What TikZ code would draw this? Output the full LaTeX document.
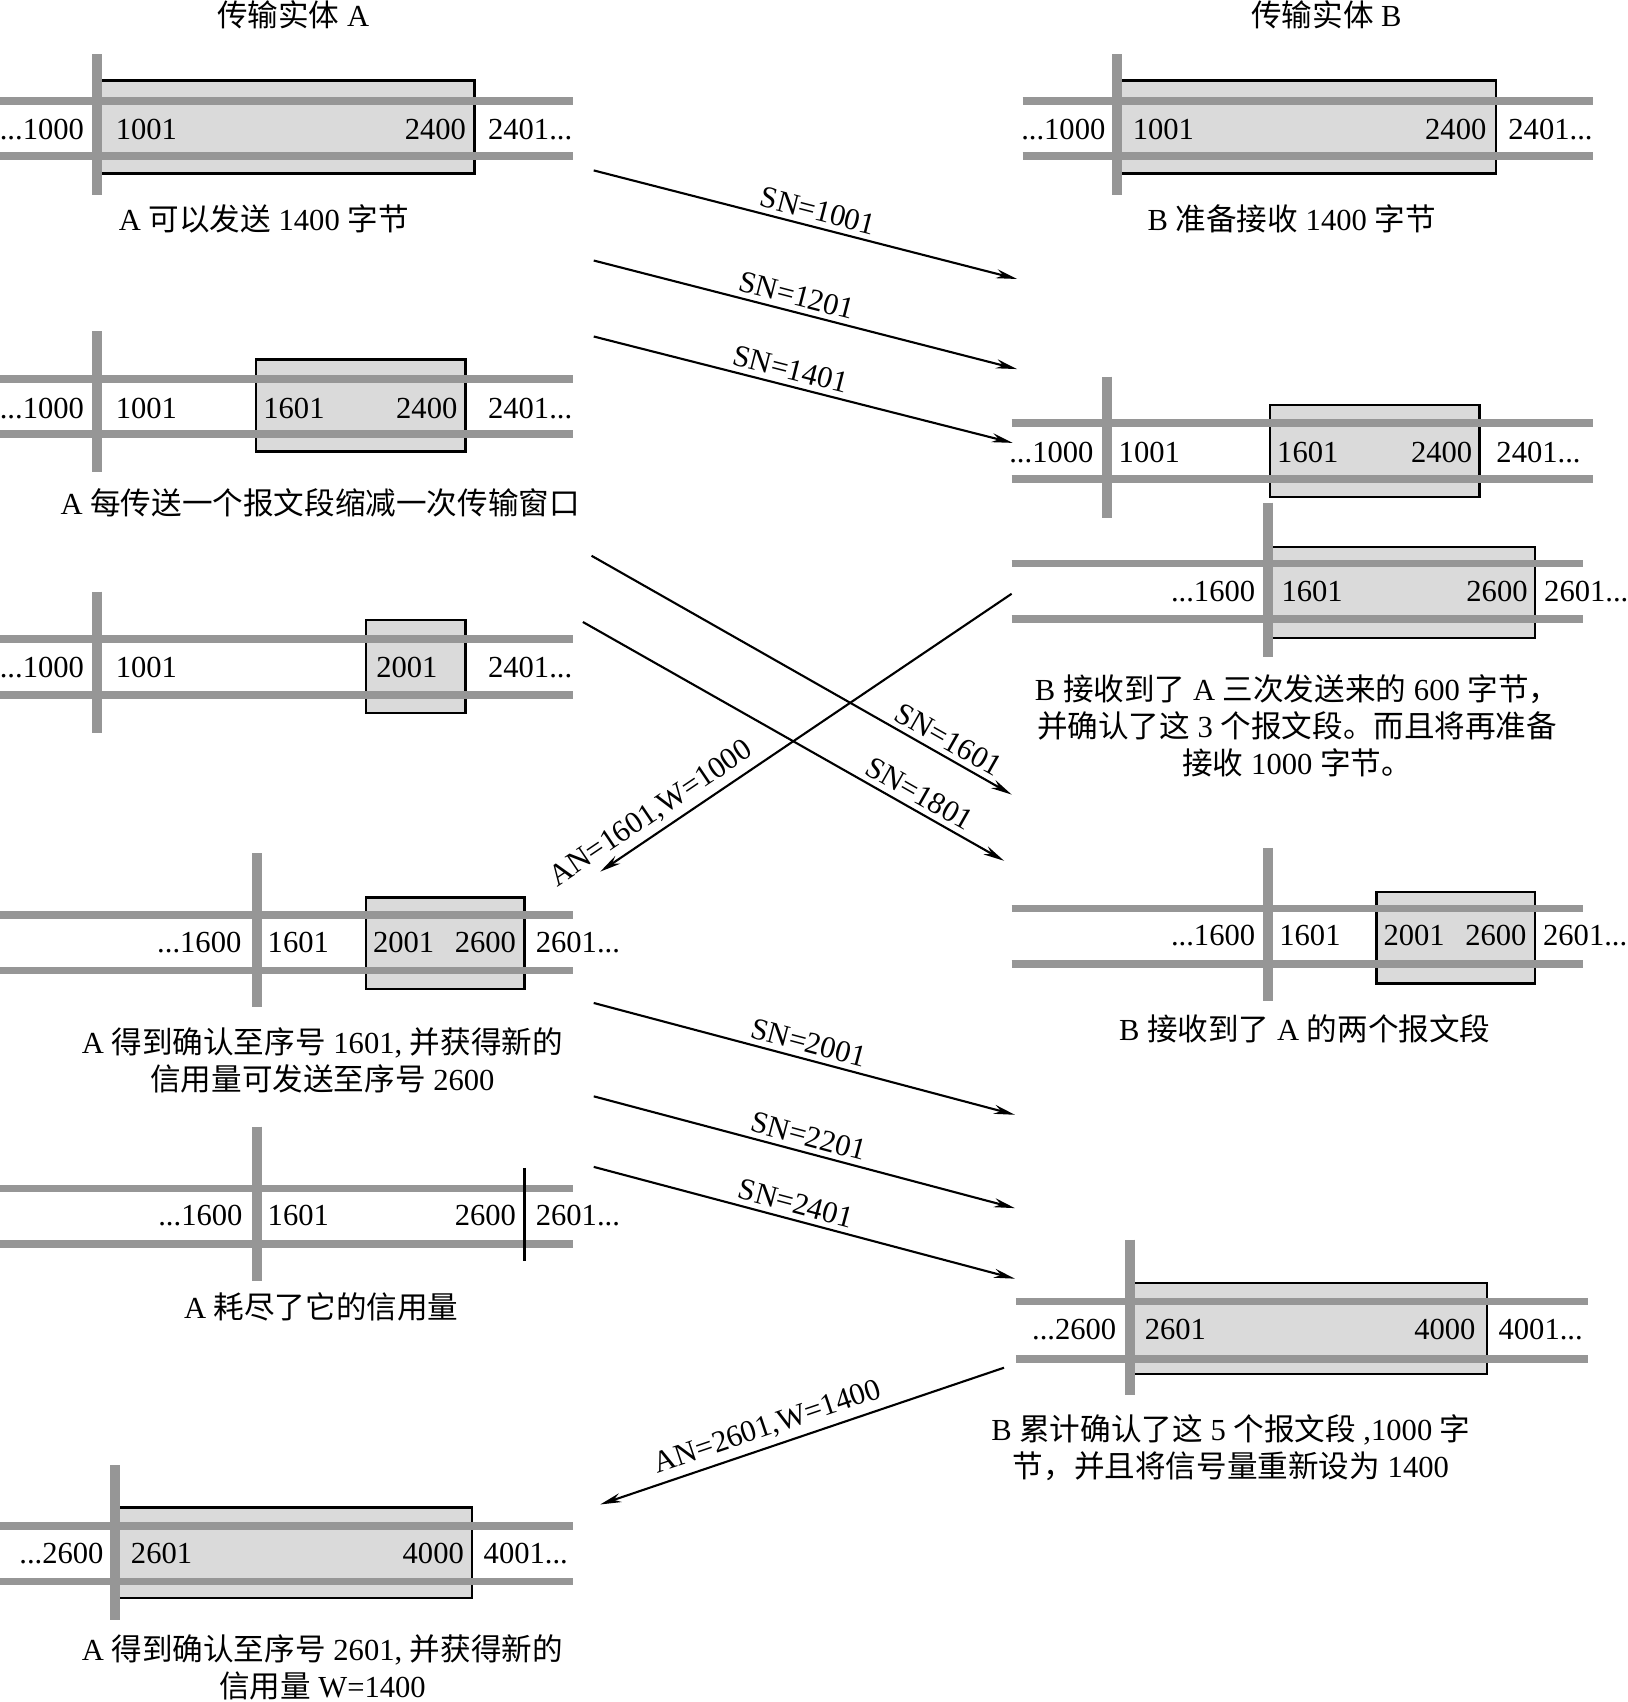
\documentclass[tikz,border=0pt]{standalone}
\usepackage{fontspec}
\setmainfont{Liberation Serif}
\newfontfamily\cjk{Noto Sans CJK SC}
\usetikzlibrary{arrows.meta}
\definecolor{trackgray}{RGB}{150,150,150}
\definecolor{wingray}{RGB}{218,218,218}
\newcommand\figfont{\fontsize{8.7pt}{10.5pt}\selectfont}
\tikzset{
  track/.style={draw=trackgray, line width=2.2pt},
  bar/.style={draw=trackgray, line width=2.8pt},
  window/.style={draw=black, fill=wingray, line width=0.7pt},
  limit/.style={draw=black, line width=0.7pt},
  num/.style={inner sep=0pt, font=\figfont},
  caption/.style={inner sep=0pt, align=center, font=\figfont},
  msg/.style={-{Stealth[length=6pt, width=2.6pt]}, line width=0.6pt},
  msglabel/.style={sloped, above, inner sep=1.5pt, font=\figfont}
}

\begin{document}
\begin{tikzpicture}[x=0.010854cm, y=-0.010854cm]
  \useasboundingbox (0,0) rectangle (1499,1568);
  \node[caption] (titleA) at (270,14) {{\cjk 传输实体} A};
  \node[caption] (titleB) at (1222,14) {{\cjk 传输实体} B};

  % A1
  \draw[window] (89,74) rectangle (437,160);
  \draw[track] (0,93) -- (528,93) (0,144) -- (528,144);
  \draw[bar] (89,50) -- (89,180);
  \node[num, anchor=east] (a1-lo) at (78,119) {...1000};
  \node[num, anchor=west] (a1-i1) at (106,119) {1001};
  \node[num, anchor=east] (a1-i2) at (430,119) {2400};
  \node[num, anchor=west] (a1-ro) at (449,119) {2401...};
  \node[caption] (capA1) at (243,202) {A {\cjk 可以发送} 1400 {\cjk 字节}};

  % B1
  \draw[window] (1029,74) rectangle (1378,160);
  \draw[track] (942,93) -- (1468,93) (942,144) -- (1468,144);
  \draw[bar] (1029,50) -- (1029,180);
  \node[num, anchor=east] (b1-lo) at (1019,119) {...1000};
  \node[num, anchor=west] (b1-i1) at (1043,119) {1001};
  \node[num, anchor=east] (b1-i2) at (1370,119) {2400};
  \node[num, anchor=west] (b1-ro) at (1389,119) {2401...};
  \node[caption] (capB1) at (1190,202) {B {\cjk 准备接收} 1400 {\cjk 字节}};

  % A2
  \draw[window] (236,331) rectangle (429,416);
  \draw[track] (0,349) -- (528,349) (0,400) -- (528,400);
  \draw[bar] (89,305) -- (89,435);
  \node[num, anchor=east] (a2-lo) at (78,376) {...1000};
  \node[num, anchor=west] (a2-i1) at (106,376) {1001};
  \node[num, anchor=west] (a2-i2) at (242,376) {1601};
  \node[num, anchor=east] (a2-i3) at (422,376) {2400};
  \node[num, anchor=west] (a2-ro) at (449,376) {2401...};
  \node[caption] (capA2) at (295,463) {A {\cjk 每传送一个报文段缩减一次传输窗口}};

  % A3
  \draw[window] (337,571) rectangle (429,657);
  \draw[track] (0,589) -- (528,589) (0,640) -- (528,640);
  \draw[bar] (89,545) -- (89,675);
  \node[num, anchor=east] (a3-lo) at (78,615) {...1000};
  \node[num, anchor=west] (a3-i1) at (106,615) {1001};
  \node[num, anchor=west] (a3-i2) at (346,615) {2001};
  \node[num, anchor=west] (a3-ro) at (449,615) {2401...};

  % B2
  \draw[window] (1170,373) rectangle (1363,458);
  \draw[track] (932,390) -- (1468,390) (932,441) -- (1468,441);
  \draw[bar] (1020,347) -- (1020,477);
  \node[num, anchor=east] (b2-lo) at (1008,417) {...1000};
  \node[num, anchor=west] (b2-i1) at (1030,417) {1001};
  \node[num, anchor=west] (b2-i2) at (1176,417) {1601};
  \node[num, anchor=east] (b2-i3) at (1357,417) {2400};
  \node[num, anchor=west] (b2-ro) at (1378,417) {2401...};

  % B3
  \draw[window] (1168,504) rectangle (1414,588);
  \draw[track] (932,519) -- (1458,519) (932,570) -- (1458,570);
  \draw[bar] (1168,463) -- (1168,605);
  \node[num, anchor=east] (b3-lo) at (1157,545) {...1600};
  \node[num, anchor=west] (b3-i1) at (1180,545) {1601};
  \node[num, anchor=east] (b3-i2) at (1408,545) {2600};
  \node[num, anchor=west] (b3-ro) at (1422,545) {2601...};
  \node[caption] (capB3) at (1195,669) {B {\cjk 接收到了} A {\cjk 三次发送来的} 600 {\cjk 字节，}\\
    {\cjk 并确认了这} 3 {\cjk 个报文段。而且将再准备}\\
    {\cjk 接收} 1000 {\cjk 字节。}};

  % A4
  \draw[window] (337,827) rectangle (483,911);
  \draw[track] (0,843) -- (528,843) (0,894) -- (528,894);
  \draw[bar] (237,786) -- (237,928);
  \node[num, anchor=east] (a4-lo) at (223,868) {...1600};
  \node[num, anchor=west] (a4-i1) at (246,868) {1601};
  \node[num, anchor=west] (a4-i2) at (343,868) {2001};
  \node[num, anchor=east] (a4-i3) at (476,868) {2600};
  \node[num, anchor=west] (a4-ro) at (493,868) {2601...};
  \node[caption] (capA4) at (297,977) {A {\cjk 得到确认至序号} 1601, {\cjk 并获得新的}\\
    {\cjk 信用量可发送至序号} 2600};

  % B4
  \draw[window] (1268,822) rectangle (1414,906);
  \draw[track] (932,837) -- (1458,837) (932,888) -- (1458,888);
  \draw[bar] (1168,781) -- (1168,922);
  \node[num, anchor=east] (b4-lo) at (1157,862) {...1600};
  \node[num, anchor=west] (b4-i1) at (1178,862) {1601};
  \node[num, anchor=west] (b4-i2) at (1274,862) {2001};
  \node[num, anchor=east] (b4-i3) at (1407,862) {2600};
  \node[num, anchor=west] (b4-ro) at (1421,862) {2601...};
  \node[caption] (capB4) at (1202,948) {B {\cjk 接收到了} A {\cjk 的两个报文段}};

  % A5
  \draw[track] (0,1095) -- (528,1095) (0,1146) -- (528,1146);
  \draw[bar] (237,1038) -- (237,1180);
  \draw[limit] (483,1076) -- (483,1162);
  \node[num, anchor=east] (a5-lo) at (224,1120) {...1600};
  \node[num, anchor=west] (a5-i1) at (246,1120) {1601};
  \node[num, anchor=east] (a5-i2) at (476,1120) {2600};
  \node[num, anchor=west] (a5-ro) at (493,1120) {2601...};
  \node[caption] (capA5) at (296,1204) {A {\cjk 耗尽了它的信用量}};

  % B5
  \draw[window] (1041,1182) rectangle (1370,1266);
  \draw[track] (936,1199) -- (1463,1199) (936,1252) -- (1463,1252);
  \draw[bar] (1041,1142) -- (1041,1285);
  \node[num, anchor=east] (b5-lo) at (1029,1225) {...2600};
  \node[num, anchor=west] (b5-i1) at (1054,1225) {2601};
  \node[num, anchor=east] (b5-i2) at (1360,1225) {4000};
  \node[num, anchor=west] (b5-ro) at (1380,1225) {4001...};
  \node[caption] (capB5) at (1134,1334) {B {\cjk 累计确认了这} 5 {\cjk 个报文段} ,1000 {\cjk 字}\\
    {\cjk 节，并且将信号量重新设为} 1400};

  % A6
  \draw[window] (106,1389) rectangle (435,1472);
  \draw[track] (0,1406) -- (528,1406) (0,1457) -- (528,1457);
  \draw[bar] (106,1350) -- (106,1492);
  \node[num, anchor=east] (a6-lo) at (96,1431) {...2600};
  \node[num, anchor=west] (a6-i1) at (120,1431) {2601};
  \node[num, anchor=east] (a6-i2) at (428,1431) {4000};
  \node[num, anchor=west] (a6-ro) at (445,1431) {4001...};
  \node[caption] (capA6) at (297,1536) {A {\cjk 得到确认至序号} 2601, {\cjk 并获得新的}\\
    {\cjk 信用量} W=1400};

  % segments and acknowledgements
  \coordinate (sn1001-s) at (547,157);  \coordinate (sn1001-e) at (937,257);
  \coordinate (sn1201-s) at (547,240);  \coordinate (sn1201-e) at (937,340);
  \coordinate (sn1401-s) at (547,310);  \coordinate (sn1401-e) at (933,408);
  \coordinate (sn1601-s) at (545,512);  \coordinate (sn1601-e) at (932,732);
  \coordinate (sn1801-s) at (537,573);  \coordinate (sn1801-e) at (925,793);
  \coordinate (an1601-s) at (932,547);  \coordinate (an1601-e) at (553,803);
  \coordinate (sn2001-s) at (547,924);  \coordinate (sn2001-e) at (935,1027);
  \coordinate (sn2201-s) at (547,1010); \coordinate (sn2201-e) at (935,1113);
  \coordinate (sn2401-s) at (547,1075); \coordinate (sn2401-e) at (935,1178);
  \coordinate (an2601-s) at (925,1260); \coordinate (an2601-e) at (553,1386);

  \draw[msg] (sn1001-s) -- node[msglabel, pos=0.52] (sn1001) {SN=1001} (sn1001-e);
  \draw[msg] (sn1201-s) -- node[msglabel, pos=0.47] (sn1201) {SN=1201} (sn1201-e);
  \draw[msg] (sn1401-s) -- node[msglabel, pos=0.46] (sn1401) {SN=1401} (sn1401-e);
  \draw[msg] (sn1601-s) -- node[msglabel, pos=0.83] (sn1601) {SN=1601} (sn1601-e);
  \draw[msg] (sn1801-s) -- node[msglabel, pos=0.78] (sn1801) {SN=1801} (sn1801-e);
  \draw[msg] (an1601-s) -- node[msglabel, pos=0.85] (an1601) {AN=1601,W=1000} (an1601-e);
  \draw[msg] (sn2001-s) -- node[msglabel, pos=0.50] (sn2001) {SN=2001} (sn2001-e);
  \draw[msg] (sn2201-s) -- node[msglabel, pos=0.50] (sn2201) {SN=2201} (sn2201-e);
  \draw[msg] (sn2401-s) -- node[msglabel, pos=0.47] (sn2401) {SN=2401} (sn2401-e);
  \draw[msg] (an2601-s) -- node[msglabel, pos=0.57] (an2601) {AN=2601,W=1400} (an2601-e);
\end{tikzpicture}
\end{document}
